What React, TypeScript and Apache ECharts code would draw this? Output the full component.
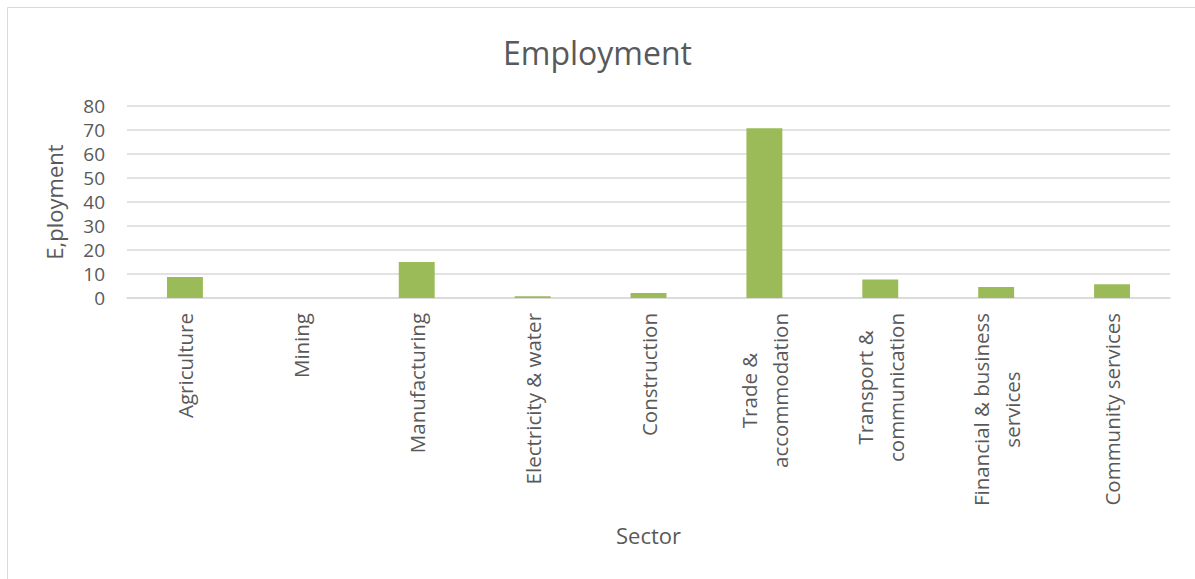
import React, { useEffect, useRef } from "react";
import * as echarts from "echarts";

const categories = [
  "Agriculture",
  "Mining",
  "Manufacturing",
  "Electricity & water",
  "Construction",
  "Trade &\naccommodation",
  "Transport &\ncommunication",
  "Financial & business\nservices",
  "Community services",
];
const employment = [8.8, 0, 15.0, 0.7, 2.1, 70.7, 7.7, 4.6, 5.7];
const yTicks = [0, 80, 10];

const TEXT = "#595959";
const FONT = "Open Sans";

export default function App() {
  const ref = useRef<HTMLDivElement>(null);
  useEffect(() => {
    if (!ref.current) return;
    const chart = echarts.init(ref.current, undefined, { renderer: "svg" });
    chart.setOption({
      animation: false,
      backgroundColor: "#ffffff",
      textStyle: { fontFamily: FONT },
      title: {
        text: "Employment",
        left: "center",
        top: 31,
        textStyle: { fontFamily: FONT, fontSize: 32, fontWeight: "normal", color: TEXT },
      },
      graphic: [
        {
          type: "rect",
          shape: { x: 7.5, y: 7.5, width: 1200, height: 600 },
          style: { fill: "none", stroke: "#d9d9d9", lineWidth: 1 },
          silent: true,
        },
      ],
      grid: { left: 127, right: 25, top: 106, bottom: 281 },
      xAxis: {
        type: "category",
        data: categories,
        name: "Sector",
        nameLocation: "middle",
        nameGap: 226,
        nameTextStyle: { fontFamily: FONT, fontSize: 22, color: TEXT },
        axisLine: { lineStyle: { color: "#d9d9d9", width: 1.5 } },
        axisTick: { show: false },
        axisLabel: {
          interval: 0,
          rotate: 90,
          margin: 15,
          color: TEXT,
          fontFamily: FONT,
          fontSize: 20.5,
          formatter: (v: string) => v.split("\n").map((l) => `{c|${l}}`).join("\n"),
          rich: {
            c: { align: "center", fontFamily: FONT, fontSize: 20.5, color: TEXT, lineHeight: 31 },
          },
        },
      },
      yAxis: {
        type: "value",
        min: yTicks[0],
        max: yTicks[1],
        interval: yTicks[2],
        name: "E,ployment",
        nameLocation: "middle",
        nameGap: 62,
        nameTextStyle: { fontFamily: FONT, fontSize: 22, color: TEXT },
        axisLine: { show: false },
        axisTick: { show: false },
        axisLabel: { color: TEXT, fontFamily: FONT, fontSize: 19, lineHeight: 20, margin: 22 },
        splitLine: { lineStyle: { color: "#d9d9d9", width: 1.5 } },
      },
      series: [
        {
          type: "bar",
          data: employment,
          barCategoryGap: "69%",
          itemStyle: { color: "#9bbb59" },
        },
      ],
    });
    return () => chart.dispose();
  }, []);
  return (
    <div
      ref={ref}
      style={{ position: "absolute", left: 0, top: 0, width: 1195, height: 579 }}
    />
  );
}
